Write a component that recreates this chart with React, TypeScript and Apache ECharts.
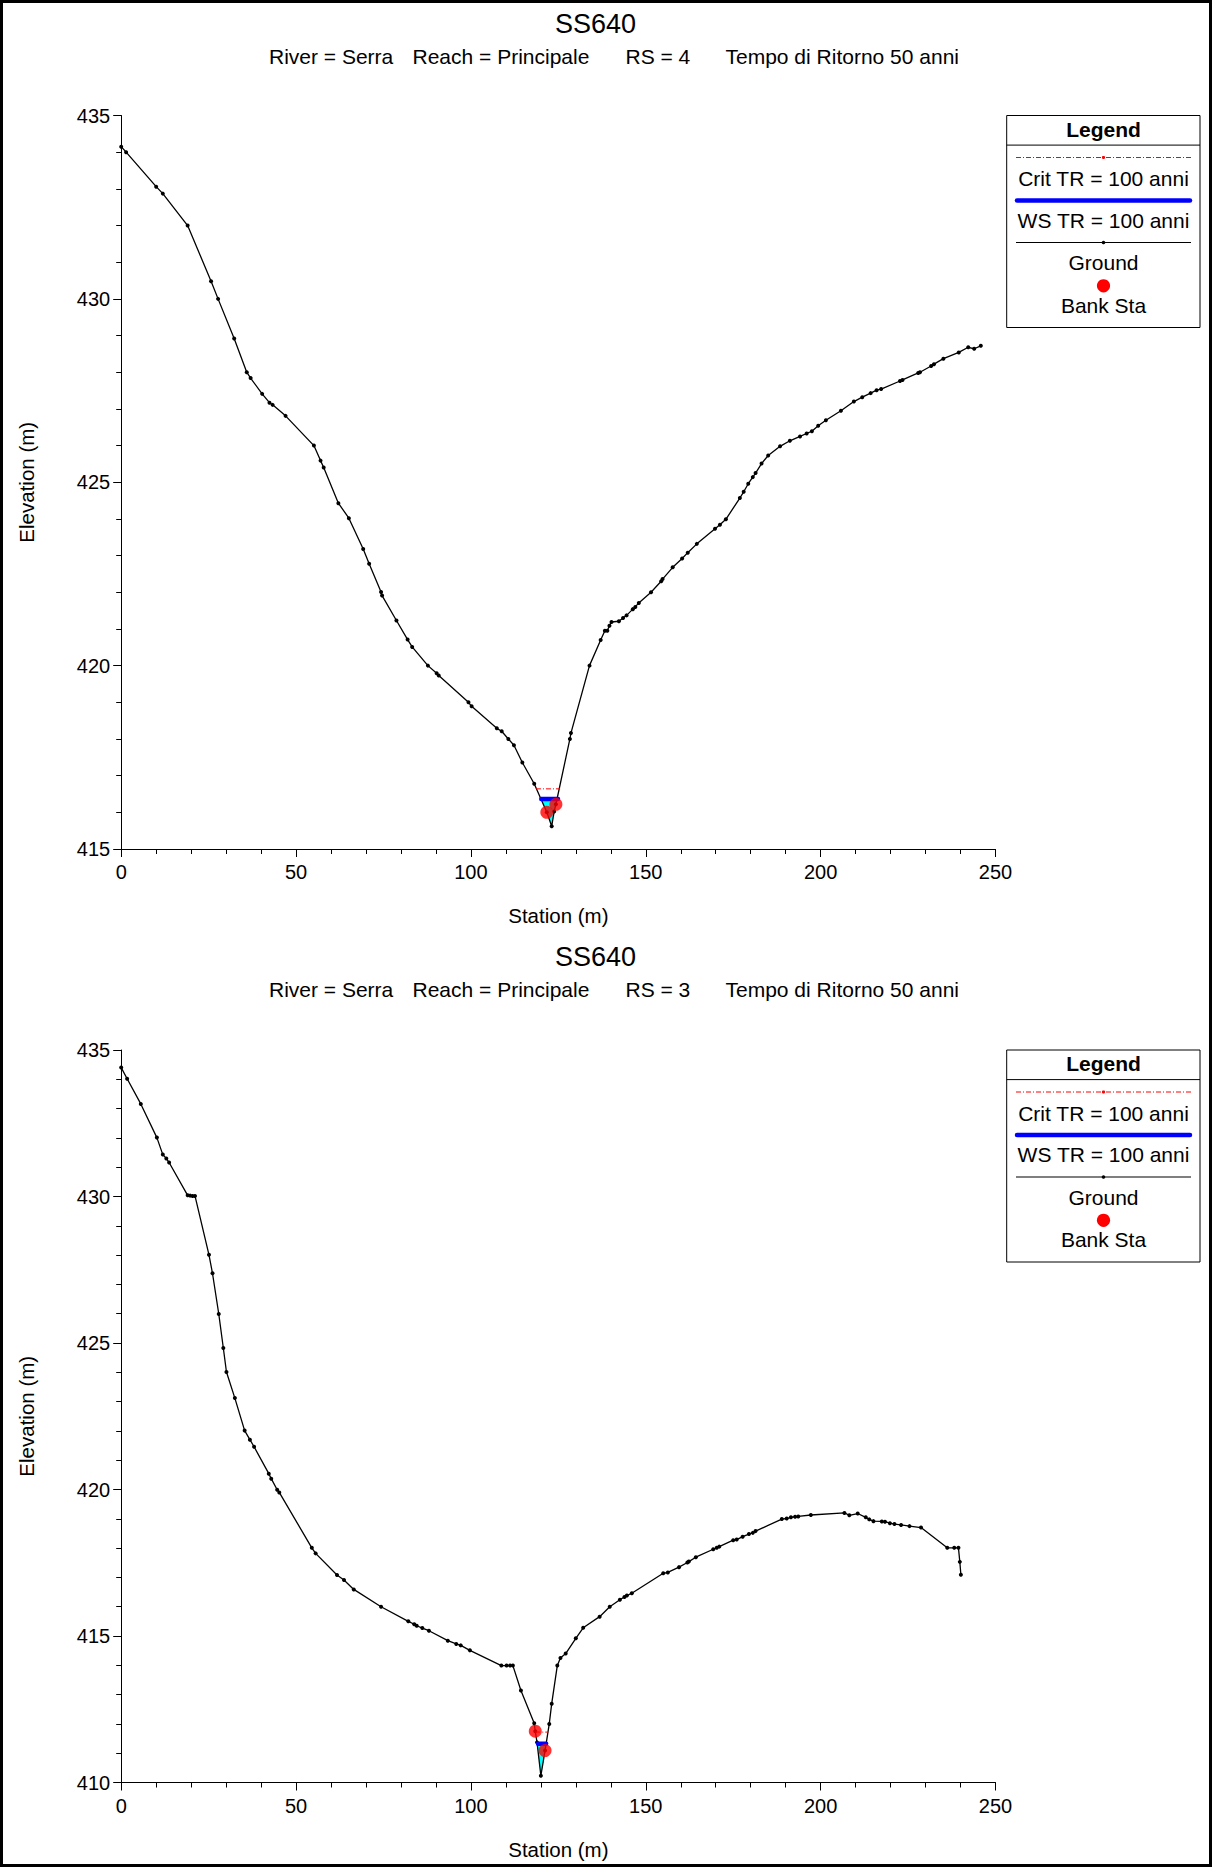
import React, { useEffect, useRef } from "react";
import * as echarts from "echarts";

type Pt = [number, number];

// ---------- text ----------
const titleText = "SS640";
const subtitle1 = ["River = Serra", "Reach = Principale", "RS = 4", "Tempo di Ritorno 50 anni"];
const subtitle2 = ["River = Serra", "Reach = Principale", "RS = 3", "Tempo di Ritorno 50 anni"];
const legendTitle = "Legend";
const legendLabels = ["Crit TR = 100 anni", "WS TR = 100 anni", "Ground", "Bank Sta"];
const xAxisName = "Station (m)";
const yAxisName = "Elevation (m)";

// ---------- axes ----------
const stationRange = [0, 250];
const stationStep = 50;
const elevRange1 = [415, 435];
const elevRange2 = [410, 435];
const elevStep = 5;

// ---------- RS = 4 ----------
const ground1: Pt[] = [
  [0.0, 434.15], [1.4, 434.0], [10.0, 433.06], [11.9, 432.87], [19.0, 432.0],
  [25.7, 430.48], [27.7, 430.0], [32.3, 428.92], [35.9, 428.0], [37.0, 427.84],
  [40.3, 427.41], [42.4, 427.17], [43.3, 427.11], [47.0, 426.81], [55.1, 426.0],
  [57.0, 425.59], [57.9, 425.4], [62.1, 424.43], [65.1, 424.02], [69.2, 423.18],
  [70.9, 422.78], [74.3, 422.01], [74.6, 421.91], [78.7, 421.23], [81.9, 420.71],
  [83.2, 420.51], [87.7, 420.0], [90.2, 419.79], [90.8, 419.73], [99.3, 419.0],
  [100.2, 418.89], [107.4, 418.29], [108.8, 418.21], [110.7, 418.0], [112.3, 417.83],
  [114.7, 417.36], [118.1, 416.78], [121.7, 416.0], [123.1, 415.62], [123.8, 416.02],
  [124.3, 416.22], [128.3, 418.0], [128.6, 418.16], [133.9, 420.0], [137.1, 420.7],
  [138.3, 420.95], [139.0, 420.95], [139.6, 421.09], [140.2, 421.19], [142.3, 421.21],
  [143.5, 421.3], [144.5, 421.37], [146.3, 421.54], [147.0, 421.6], [148.0, 421.71],
  [151.5, 422.0], [154.4, 422.3], [154.8, 422.36], [157.7, 422.68], [160.4, 422.92],
  [162.0, 423.08], [164.6, 423.32], [169.8, 423.73], [171.2, 423.84], [172.9, 423.99],
  [176.9, 424.57], [178.0, 424.74], [179.3, 424.96], [180.6, 425.14], [181.4, 425.25],
  [183.1, 425.51], [185.0, 425.73], [188.4, 425.98], [191.2, 426.13], [194.1, 426.25],
  [196.0, 426.33], [197.5, 426.39], [199.3, 426.54], [201.5, 426.69], [205.8, 426.95],
  [209.5, 427.2], [211.9, 427.32], [214.3, 427.43], [216.0, 427.51], [217.3, 427.54],
  [222.7, 427.76], [223.4, 427.79], [227.9, 427.98], [228.4, 428.0], [231.6, 428.17],
  [232.4, 428.22], [235.1, 428.37], [239.5, 428.54], [242.2, 428.68], [243.9, 428.64],
  [245.8, 428.72],
];
const banks1: Pt[] = [[121.7, 416.0], [124.3, 416.22]];
const ws1Elev = 416.36;
const ws1Sta = [120.1, 124.9];
const crit1Elev = 416.64;
const crit1Sta = [118.6, 125.5];

// ---------- RS = 3 ----------
const ground2: Pt[] = [
  [0.0, 434.4], [1.7, 434.02], [5.6, 433.16], [10.2, 432.01], [11.9, 431.43],
  [12.9, 431.3], [13.7, 431.16], [19.0, 430.04], [19.7, 430.03], [20.4, 430.02],
  [21.1, 430.02], [25.1, 428.01], [26.1, 427.38], [27.9, 425.99], [29.2, 424.83],
  [30.1, 424.01], [32.5, 423.12], [35.3, 422.01], [36.8, 421.7], [38.0, 421.46],
  [42.2, 420.54], [42.9, 420.37], [44.6, 419.99], [45.2, 419.9], [54.5, 418.01],
  [55.6, 417.82], [61.7, 417.08], [63.7, 416.91], [66.5, 416.59], [74.3, 416.0],
  [82.1, 415.5], [83.8, 415.4], [84.5, 415.35], [86.1, 415.27], [88.0, 415.18],
  [93.4, 414.84], [95.8, 414.73], [97.1, 414.68], [99.7, 414.51], [108.7, 413.99],
  [110.2, 413.99], [111.2, 413.99], [112.0, 413.99], [114.3, 413.14], [118.1, 412.02],
  [118.4, 411.75], [118.9, 411.37], [120.0, 410.23], [121.2, 411.09], [122.4, 412.0],
  [123.1, 412.69], [124.7, 413.99], [125.6, 414.25], [127.1, 414.4], [130.0, 414.92],
  [132.1, 415.28], [136.8, 415.66], [139.7, 416.0], [142.6, 416.24], [143.9, 416.33],
  [144.6, 416.38], [146.0, 416.46], [155.0, 417.14], [156.3, 417.17], [159.5, 417.35],
  [161.9, 417.51], [162.3, 417.54], [164.3, 417.69], [169.3, 417.96], [170.3, 418.01],
  [171.0, 418.05], [175.0, 418.27], [176.0, 418.29], [177.7, 418.39], [179.5, 418.48],
  [180.6, 418.52], [181.4, 418.58], [188.9, 418.99], [190.3, 419.01], [191.5, 419.05],
  [192.7, 419.07], [193.6, 419.08], [197.2, 419.13], [206.8, 419.2], [208.2, 419.12],
  [210.6, 419.18], [212.9, 419.05], [213.9, 418.98], [215.1, 418.92], [217.5, 418.91],
  [218.4, 418.9], [219.8, 418.85], [221.1, 418.82], [223.0, 418.79], [225.4, 418.75],
  [228.7, 418.7], [236.2, 418.01], [238.2, 418.01], [239.4, 418.01], [239.8, 417.53],
  [240.1, 417.09],
];
const banks2: Pt[] = [[118.4, 411.75], [121.2, 411.09]];
const ws2Elev = 411.32;
const ws2Sta = [119.2, 121.5];
const crit2Elev = 411.72;
const crit2Sta = [118.4, 122.1];

// ---------- helpers ----------
const FONT = "'Liberation Sans', Arial, Helvetica, sans-serif";
const RED = "#FF0000";
const BLUE = "#0000FF";
const CYAN = "#00FFFF";

function waterPolygon(ground: Pt[], ws: number): Pt[] {
  let minI = 0;
  ground.forEach((p, i) => {
    if (p[1] < ground[minI][1]) minI = i;
  });
  let l = minI;
  while (l > 0 && ground[l - 1][1] < ws) l--;
  let r = minI;
  while (r < ground.length - 1 && ground[r + 1][1] < ws) r++;
  const interp = (a: Pt, b: Pt): Pt => {
    const t = (ws - a[1]) / (b[1] - a[1]);
    return [a[0] + t * (b[0] - a[0]), ws];
  };
  const pts: Pt[] = [];
  if (l > 0) pts.push(interp(ground[l - 1], ground[l]));
  for (let i = l; i <= r; i++) pts.push(ground[i]);
  if (r < ground.length - 1) pts.push(interp(ground[r], ground[r + 1]));
  return pts;
}

function panelSeries(
  idx: number,
  ground: Pt[],
  banks: Pt[],
  wsElev: number,
  wsSta: number[],
  critElev: number,
  critSta: number[]
) {
  const poly = waterPolygon(ground, wsElev);
  return [
    {
      type: "custom",
      xAxisIndex: idx,
      yAxisIndex: idx,
      silent: true,
      z: 1,
      data: [poly[0]],
      renderItem: (_p: any, api: any) => ({
        type: "polygon",
        shape: { points: poly.map((q) => api.coord(q)) },
        style: { fill: CYAN, stroke: "none" },
      }),
    },
    {
      type: "line",
      xAxisIndex: idx,
      yAxisIndex: idx,
      data: ground,
      symbol: "circle",
      symbolSize: 4,
      itemStyle: { color: "#000" },
      lineStyle: { color: "#000", width: 1.3 },
      z: 3,
      silent: true,
    },
    {
      type: "line",
      xAxisIndex: idx,
      yAxisIndex: idx,
      data: wsSta.map((s) => [s, wsElev]),
      symbol: "none",
      lineStyle: { color: BLUE, width: 4.5, cap: "round" },
      z: 4,
      silent: true,
    },
    {
      type: "line",
      xAxisIndex: idx,
      yAxisIndex: idx,
      data: critSta.map((s) => [s, critElev]),
      symbol: "none",
      lineStyle: { color: RED, width: 1, type: [5, 2, 1, 2] },
      z: 5,
      silent: true,
    },
    {
      type: "scatter",
      xAxisIndex: idx,
      yAxisIndex: idx,
      data: banks,
      symbol: "circle",
      symbolSize: 13,
      itemStyle: { color: RED },
      z: 6,
      silent: true,
    },
  ];
}

function axisCommon() {
  return {
    axisLine: { show: true, onZero: false, lineStyle: { color: "#000", width: 1 } },
    axisTick: { show: true, length: 8, lineStyle: { color: "#000", width: 1 } },
    minorTick: { show: true, splitNumber: 5, length: 5, lineStyle: { color: "#000", width: 1 } },
    splitLine: { show: false },
    minorSplitLine: { show: false },
  };
}

function text(x: number, y: number, t: string, size: number, align = "center", weight = "normal", extra: any = {}) {
  return {
    type: "text",
    x,
    y,
    silent: true,
    z: 10,
    style: {
      text: t,
      font: `${weight} ${size}px ${FONT}`,
      fill: "#000",
      align,
      verticalAlign: "middle",
    },
    ...extra,
  };
}

function legendGraphics(top: number) {
  const L = 1006.7;
  const R = 1200;
  const cx = 1103.5;
  return [
    {
      type: "rect",
      z: 9,
      silent: true,
      shape: { x: L, y: top, width: R - L, height: 212 },
      style: { fill: "#fff", stroke: "#000", lineWidth: 1 },
    },
    {
      type: "line",
      z: 10,
      silent: true,
      shape: { x1: L, y1: top + 29.6, x2: R, y2: top + 29.6 },
      style: { stroke: "#000", lineWidth: 1 },
    },
    text(cx, top + 13.5, legendTitle, 21, "center", "bold"),
    {
      type: "line",
      z: 10,
      silent: true,
      shape: { x1: 1016, y1: top + 42, x2: 1191, y2: top + 42 },
      style: { stroke: RED, lineWidth: 1, lineDash: [5, 2, 1, 2] },
    },
    { type: "circle", z: 10, silent: true, shape: { cx, cy: top + 42, r: 1.6 }, style: { fill: RED } },
    text(cx, top + 63, legendLabels[0], 21),
    {
      type: "line",
      z: 10,
      silent: true,
      shape: { x1: 1017, y1: top + 85, x2: 1190, y2: top + 85 },
      style: { stroke: BLUE, lineWidth: 4.5, lineCap: "round" },
    },
    text(cx, top + 104.5, legendLabels[1], 21),
    {
      type: "line",
      z: 10,
      silent: true,
      shape: { x1: 1016, y1: top + 127, x2: 1191, y2: top + 127 },
      style: { stroke: "#000", lineWidth: 1.2 },
    },
    { type: "circle", z: 10, silent: true, shape: { cx, cy: top + 127, r: 1.8 }, style: { fill: "#000" } },
    text(cx, top + 147, legendLabels[2], 21),
    { type: "circle", z: 10, silent: true, shape: { cx, cy: top + 170.3, r: 6.6 }, style: { fill: RED } },
    text(cx, top + 189.5, legendLabels[3], 21),
  ];
}

function headerGraphics(titleY: number, subY: number, sub: string[]) {
  const subX = [269, 412.5, 625.5, 725.5];
  return [
    text(595.5, titleY, titleText, 27),
    ...sub.map((s, i) => text(subX[i], subY, s, 21, "left")),
  ];
}

const GRID_LEFT = 121.2;
const GRID_WIDTH = 874.3;
const GRID1_TOP = 115.5;
const GRID1_H = 733.5;
const GRID2_TOP = 1050;
const GRID2_H = 732.5;

export default function App() {
  const ref = useRef<HTMLDivElement>(null);

  useEffect(() => {
    document.body.style.margin = "0";
    if (!ref.current) return;
    const chart = echarts.init(ref.current, undefined, { renderer: "svg" });

    const xAx = (gi: number) => ({
      type: "value",
      gridIndex: gi,
      min: stationRange[0],
      max: stationRange[1],
      interval: stationStep,
      ...axisCommon(),
      axisLabel: { color: "#000", fontSize: 20, fontFamily: FONT, margin: 13 },
    });
    const yAx = (gi: number, range: number[]) => ({
      type: "value",
      gridIndex: gi,
      min: range[0],
      max: range[1],
      interval: elevStep,
      ...axisCommon(),
      axisLabel: { color: "#000", fontSize: 20, fontFamily: FONT, margin: 11 },
    });

    const option: any = {
      animation: false,
      backgroundColor: "#fff",
      textStyle: { fontFamily: FONT },
      grid: [
        { left: GRID_LEFT, top: GRID1_TOP, width: GRID_WIDTH, height: GRID1_H, containLabel: false },
        { left: GRID_LEFT, top: GRID2_TOP, width: GRID_WIDTH, height: GRID2_H, containLabel: false },
      ],
      xAxis: [xAx(0), xAx(1)],
      yAxis: [yAx(0, elevRange1), yAx(1, elevRange2)],
      series: [
        ...panelSeries(0, ground1, banks1, ws1Elev, ws1Sta, crit1Elev, crit1Sta),
        ...panelSeries(1, ground2, banks2, ws2Elev, ws2Sta, crit2Elev, crit2Sta),
      ],
      graphic: [
        {
          type: "rect",
          z: 20,
          silent: true,
          shape: { x: 1.5, y: 1.5, width: 1209, height: 1864 },
          style: { fill: "none", stroke: "#000", lineWidth: 3 },
        },
        ...headerGraphics(24, 56, subtitle1),
        ...headerGraphics(957, 989, subtitle2),
        text(GRID_LEFT + GRID_WIDTH / 2, GRID1_TOP + GRID1_H + 66.5, xAxisName, 20.5),
        text(GRID_LEFT + GRID_WIDTH / 2, GRID2_TOP + GRID2_H + 66.5, xAxisName, 20.5),
        text(26, GRID1_TOP + GRID1_H / 2, yAxisName, 20.5, "center", "normal", { rotation: Math.PI / 2 }),
        text(26, GRID2_TOP + GRID2_H / 2, yAxisName, 20.5, "center", "normal", { rotation: Math.PI / 2 }),
        ...legendGraphics(GRID1_TOP),
        ...legendGraphics(GRID2_TOP),
      ],
    };

    chart.setOption(option);
    return () => {
      chart.dispose();
    };
  }, []);

  return <div ref={ref} style={{ width: 1212, height: 1867 }} />;
}
